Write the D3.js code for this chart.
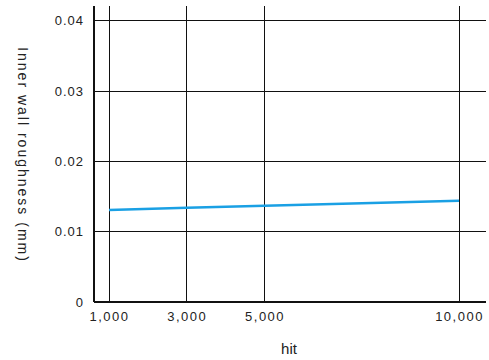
<!DOCTYPE html>
<html><head><meta charset="utf-8">
<script src="https://cdn.jsdelivr.net/npm/d3@7"></script>
<style>body{margin:0;background:#fff}svg{display:block}text{font-family:"Liberation Sans",Arial,sans-serif;fill:#222}</style>
</head><body>
<svg id="c" width="489" height="360"></svg>
<script>
const hits = [1000, 3000, 5000, 10000];
const roughness = [0.0131, 0.0134, 0.0137, 0.0144];
const xTicks = [1000, 3000, 5000, 10000];
const yTicks = [0, 0.01, 0.02, 0.03, 0.04];
const xTitle = "hit";
const yTitle = "Inner wall roughness (mm)";

(function () {
const svg = d3.select("#c");
const pL = 94, pR = 486, pT = 6, pB = 302;
const x = d3.scaleLinear().domain([614, 10694]).range([pL, pR]);
const y = d3.scaleLinear().domain([0, 0.0421]).range([pB, pT]);

const g = svg.append("g");
// grid
g.selectAll(".hg").data(yTicks.filter(d => d > 0)).join("line")
  .attr("x1", pL).attr("x2", pR).attr("y1", d => y(d)).attr("y2", d => y(d))
  .attr("stroke", "#111").attr("stroke-width", 1).attr("shape-rendering", "crispEdges");
g.selectAll(".vg").data(xTicks).join("line")
  .attr("x1", d => x(d)).attr("x2", d => x(d)).attr("y1", pT).attr("y2", pB)
  .attr("stroke", "#111").attr("stroke-width", 1).attr("shape-rendering", "crispEdges");
// axes lines
g.append("line").attr("x1", pL).attr("x2", pL).attr("y1", pT).attr("y2", pB)
  .attr("stroke", "#111").attr("stroke-width", 2);
g.append("line").attr("x1", pL).attr("x2", pR).attr("y1", pB).attr("y2", pB)
  .attr("stroke", "#111").attr("stroke-width", 2);

// tick labels
const yAxis = d3.axisLeft(y).tickValues(yTicks).tickFormat(d => d === 0 ? "0" : d3.format(".2f")(d)).tickSize(0).tickPadding(10);
const ya = svg.append("g").attr("transform", `translate(${pL},0)`).call(yAxis);
ya.select(".domain").remove();
ya.selectAll("text").style("font-size", "13px").style("letter-spacing", "1px").attr("fill", "#222").attr("font-family", "Liberation Sans, Arial, sans-serif");

const xAxis = d3.axisBottom(x).tickValues(xTicks).tickFormat(d3.format(",")).tickSize(0).tickPadding(10);
const xa = svg.append("g").attr("transform", `translate(0,${pB})`).call(xAxis);
xa.select(".domain").remove();
xa.selectAll("text").style("font-size", "13px").style("letter-spacing", "1.5px").attr("fill", "#222").attr("font-family", "Liberation Sans, Arial, sans-serif");

// line
svg.append("path").datum(hits.map((h, i) => [h, roughness[i]]))
  .attr("fill", "none").attr("stroke", "#1aa0e4").attr("stroke-width", 2.5)
  .attr("d", d3.line().x(d => x(d[0])).y(d => y(d[1])));

// titles
svg.append("text").attr("x", 289).attr("y", 354).attr("text-anchor", "middle")
  .style("font-size", "15px").text(xTitle);
svg.append("text").attr("transform", "translate(18,155) rotate(90)").attr("text-anchor", "middle")
  .style("font-size", "14px").style("letter-spacing", "2px").text(yTitle);
})();
</script>
</body></html>
